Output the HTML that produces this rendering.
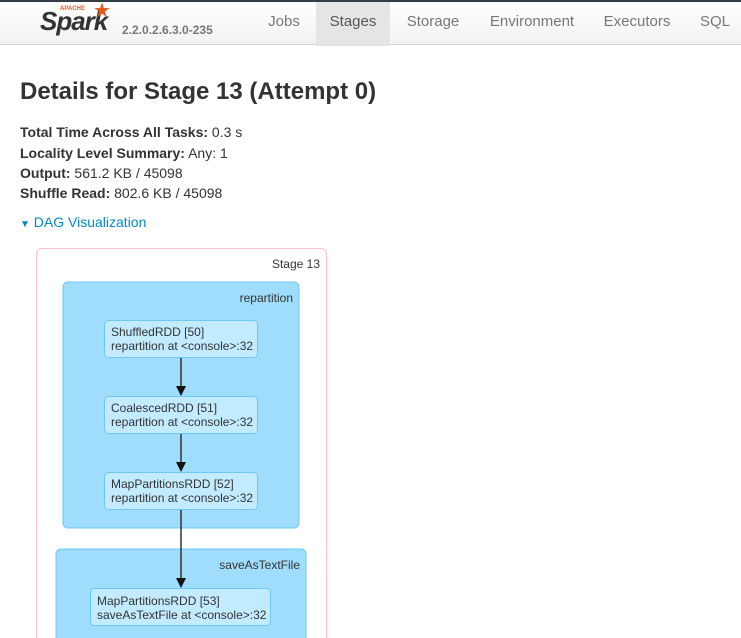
<!DOCTYPE html>
<html><head><meta charset="utf-8"><style>
body{margin:0;width:741px;height:638px;overflow:hidden;background:#fff;font-family:"Liberation Sans",sans-serif;color:#333;position:relative}
.nav{position:absolute;left:0;top:0;width:741px;height:45px;background:linear-gradient(#fff,#f2f2f2);border-top:2px solid #333d47;border-bottom:1px solid #d4d4d4;box-sizing:border-box}
.tab{position:absolute;top:0;height:44px;line-height:40px;font-size:15px;color:#777}
.act{background:#e5e5e5;color:#555}
h3{position:absolute;left:20px;top:78px;margin:0;font-size:24px;font-weight:bold;color:#333}
.s{position:absolute;left:20px;font-size:14px;color:#333}
b{font-weight:bold}
</style></head><body>
<div class="nav">
<div style="position:absolute;left:40px;top:4px;font-size:26px;font-weight:bold;font-style:italic;color:#333;letter-spacing:-1px">Spark</div>
<div style="position:absolute;left:60px;top:4px;font-size:6px;color:#e25a1c;font-weight:bold">APACHE</div>
<div style="position:absolute;left:93px;top:-4px;font-size:20px;color:#e25a1c">★</div>
<div style="position:absolute;left:122px;top:21px;font-size:12px;color:#777;font-weight:bold">2.2.0.2.6.3.0-235</div>
<div class="tab" style="left:255px;width:58px;text-align:center">Jobs</div>
<div class="tab act" style="left:316px;width:74px;text-align:center">Stages</div>
<div class="tab" style="left:390px;width:86px;text-align:center">Storage</div>
<div class="tab" style="left:476px;width:112px;text-align:center">Environment</div>
<div class="tab" style="left:588px;width:98px;text-align:center">Executors</div>
<div class="tab" style="left:686px;width:58px;text-align:center">SQL</div>
</div>
<h3>Details for Stage 13 (Attempt 0)</h3>
<div class="s" style="top:124px"><b>Total Time Across All Tasks:</b> 0.3 s</div>
<div class="s" style="top:145px"><b>Locality Level Summary:</b> Any: 1</div>
<div class="s" style="top:165px"><b>Output:</b> 561.2 KB / 45098</div>
<div class="s" style="top:185px"><b>Shuffle Read:</b> 802.6 KB / 45098</div>
<div class="s" style="top:214px;color:#0088cc"><span style="font-size:10px">▼</span> DAG Visualization</div>
<svg style="position:absolute;left:0;top:0" width="741" height="638" font-family="Liberation Sans,sans-serif" font-size="12">
<rect x="36.5" y="248.5" width="290" height="420" rx="5" fill="#fff" stroke="#ffc0cb"/>
<text x="320" y="268" text-anchor="end" fill="#333">Stage 13</text>
<rect x="63" y="282" width="236" height="246" rx="5" fill="#a0dcfc" stroke="#6ec8f5"/>
<text x="293" y="302" text-anchor="end" fill="#333">repartition</text>
<rect x="56" y="549" width="250" height="120" rx="5" fill="#a0dcfc" stroke="#6ec8f5"/>
<text x="300" y="569" text-anchor="end" fill="#333">saveAsTextFile</text>
<g fill="#c3ebff" stroke="#6ec8f5">
<rect x="104.5" y="320.5" width="153" height="37" rx="4"/>
<rect x="104.5" y="396.5" width="153" height="37" rx="4"/>
<rect x="104.5" y="472.5" width="153" height="37" rx="4"/>
<rect x="90.5" y="588.5" width="180" height="37" rx="4"/>
</g>
<g fill="#333">
<text x="111" y="336">ShuffledRDD [50]</text><text x="111" y="350">repartition at &lt;console&gt;:32</text>
<text x="111" y="412">CoalescedRDD [51]</text><text x="111" y="426">repartition at &lt;console&gt;:32</text>
<text x="111" y="488">MapPartitionsRDD [52]</text><text x="111" y="502">repartition at &lt;console&gt;:32</text>
<text x="97" y="605">MapPartitionsRDD [53]</text><text x="97" y="619">saveAsTextFile at &lt;console&gt;:32</text>
</g>
<g stroke="#333" stroke-width="1.5">
<line x1="181" y1="358" x2="181" y2="388"/>
<line x1="181" y1="434" x2="181" y2="464"/>
<line x1="181" y1="510" x2="181" y2="580"/>
</g>
<g fill="#111">
<path d="M176,386L186,386L181,396z"/>
<path d="M176,462L186,462L181,472z"/>
<path d="M176,578L186,578L181,588z"/>
</g>
</svg>
</body></html>
